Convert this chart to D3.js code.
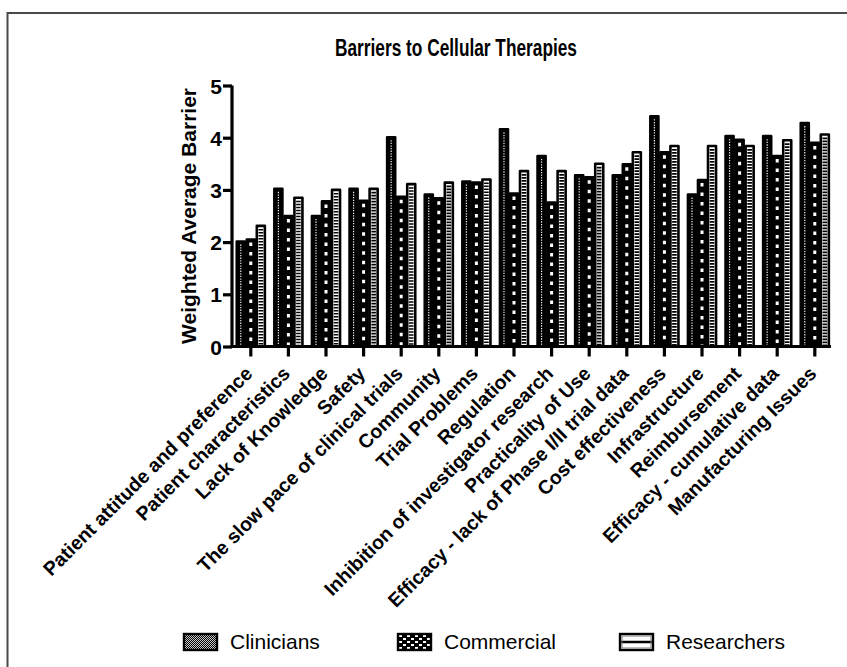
<!DOCTYPE html>
<html>
<head>
<meta charset="utf-8">
<script src="https://cdn.jsdelivr.net/npm/d3@7"></script>
<style>
  body { margin: 0; background: #fff; }
  text { font-family: "Liberation Sans", Arial, sans-serif; fill: #000; }
</style>
</head>
<body>
<script>
// barrier categories along the x axis
const categories = [
  "Patient attitude and preference",
  "Patient characteristics",
  "Lack of Knowledge",
  "Safety",
  "The slow pace of clinical trials",
  "Community",
  "Trial Problems",
  "Regulation",
  "Inhibition of investigator research",
  "Practicality of Use",
  "Efficacy - lack of Phase I/II trial data",
  "Cost effectiveness",
  "Infrastructure",
  "Reimbursement",
  "Efficacy - cumulative data",
  "Manufacturing Issues"
];
const seriesNames = ["Clinicians", "Commercial", "Researchers"];
const clinicians  = [2.01, 3.02, 2.50, 3.02, 4.01, 2.91, 3.16, 4.16, 3.65, 3.28, 3.28, 4.41, 2.91, 4.03, 4.03, 4.28];
const commercial  = [2.05, 2.50, 2.78, 2.79, 2.87, 2.84, 3.14, 2.93, 2.76, 3.24, 3.49, 3.72, 3.19, 3.96, 3.65, 3.90];
const researchers = [2.31, 2.85, 3.00, 3.02, 3.11, 3.14, 3.20, 3.36, 3.36, 3.50, 3.72, 3.84, 3.84, 3.84, 3.95, 4.06];
const yTicks = [0, 1, 2, 3, 4, 5];

const width = 847, height = 667;

const svg = d3.select("body").append("svg")
  .attr("width", width)
  .attr("height", height);

// outer frame (runs off the right / bottom edge)
svg.append("rect")
  .attr("x", 7.5).attr("y", 13)
  .attr("width", 900).attr("height", 700)
  .attr("fill", "none")
  .attr("stroke", "#4a4a4a")
  .attr("stroke-width", 2);

const data = categories.map((c, i) => ({
  cat: c,
  values: [clinicians[i], commercial[i], researchers[i]]
}));

const x0 = d3.scaleBand()
  .domain(categories)
  .range([232, 833.6])
  .paddingInner(0.2)
  .paddingOuter(0.1);

const x1 = d3.scaleBand()
  .domain(seriesNames)
  .range([0, x0.bandwidth()]);

const y = d3.scaleLinear()
  .domain([0, 5])
  .range([346.5, 85.5]);

// bars
const groups = svg.append("g").selectAll("g")
  .data(data)
  .enter().append("g")
  .attr("transform", d => `translate(${x0(d.cat)},0)`);

const bars = groups.selectAll("g.bar")
  .data(d => d.values.map((v, k) => ({ key: seriesNames[k], k: k, v: v })))
  .enter().append("g")
  .attr("class", "bar");

bars.append("rect")
  .attr("x", d => x1(d.key) + 1)
  .attr("y", d => y(d.v))
  .attr("width", x1.bandwidth() - 2)
  .attr("height", d => y(0) - y(d.v))
  .attr("fill", d => d.k == 2 ? "#fff" : "#000")
  .attr("stroke", "#000")
  .attr("stroke-width", 2.6)
  .attr("stroke-linejoin", "round");

// inner texture of every bar, drawn as a dashed line down its middle
const dashStyle = [
  { w: 1.2, dash: "1.3,1.3", col: "#eee" },   // Clinicians: fine dotted
  { w: 3,   dash: "3.5,6",   col: "#fff" },   // Commercial: white squares
  { w: 4.6, dash: "1.6,1.4", col: "#000" }    // Researchers: ladder stripes
];
bars.append("line")
  .attr("x1", d => x1(d.key) + x1.bandwidth() / 2)
  .attr("x2", d => x1(d.key) + x1.bandwidth() / 2)
  .attr("y1", d => y(d.v) + 3)
  .attr("y2", y(0) - 1)
  .attr("stroke", d => dashStyle[d.k].col)
  .attr("stroke-width", d => dashStyle[d.k].w)
  .attr("stroke-dasharray", d => dashStyle[d.k].dash);

// y axis
const yAxis = svg.append("g")
  .attr("transform", "translate(232,0)")
  .call(d3.axisLeft(y).tickValues(yTicks).tickSize(9).tickPadding(1).tickFormat(d3.format("d")));
yAxis.select(".domain").attr("stroke-width", 3.2).attr("d", `M0,${y(5)}V${y(0) + 1.5}`);
yAxis.selectAll(".tick line").attr("stroke-width", 3.2);
yAxis.selectAll(".tick text")
  .style("font-size", "21px")
  .style("font-weight", "bold")
  .attr("dy", "0.36em");

// x axis
const xAxis = svg.append("g")
  .attr("transform", `translate(0,${y(0)})`)
  .call(d3.axisBottom(x0).tickSize(10).tickSizeOuter(0));
xAxis.select(".domain").attr("stroke-width", 3.2).attr("d", "M230.5,0H831");
xAxis.selectAll(".tick line").attr("stroke-width", 3.2);
xAxis.selectAll(".tick text")
  .style("font-size", "19.5px")
  .style("font-weight", "bold")
  .attr("text-anchor", "end")
  .attr("x", -18)
  .attr("y", 22)
  .attr("dy", 0)
  .attr("transform", "rotate(-45)");

// y axis title
svg.append("text")
  .attr("transform", `translate(196,${(y(0) + y(5)) / 2}) rotate(-90)`)
  .attr("text-anchor", "middle")
  .style("font-size", "21px")
  .style("font-weight", "bold")
  .text("Weighted Average Barrier");

// chart title
svg.append("text")
  .attr("transform", "translate(456,56) scale(0.72,1)")
  .attr("text-anchor", "middle")
  .style("font-size", "24px")
  .style("font-weight", "bold")
  .text("Barriers to Cellular Therapies");

// legend swatch textures
const defs = svg.append("defs");
const pClin = defs.append("pattern").attr("id", "pClin")
  .attr("patternUnits", "userSpaceOnUse").attr("width", 2).attr("height", 2);
pClin.append("rect").attr("width", 2).attr("height", 2).attr("fill", "#000");
pClin.append("rect").attr("width", 1).attr("height", 1).attr("fill", "#ccc");
pClin.append("rect").attr("x", 1).attr("y", 1).attr("width", 1).attr("height", 1).attr("fill", "#ccc");

const pComm = defs.append("pattern").attr("id", "pComm")
  .attr("patternUnits", "userSpaceOnUse").attr("width", 8).attr("height", 6)
  .attr("x", 400).attr("y", 636);
pComm.append("rect").attr("width", 8).attr("height", 6).attr("fill", "#000");
pComm.append("rect").attr("x", 1).attr("y", 1).attr("width", 3).attr("height", 2).attr("fill", "#fff");
pComm.append("rect").attr("x", 5).attr("y", 4).attr("width", 3).attr("height", 2).attr("fill", "#fff");

const legendX = [184, 398, 620];
const legendFill = ["url(#pClin)", "url(#pComm)", "#fff"];
const legend = svg.append("g").selectAll("g")
  .data(seriesNames)
  .enter().append("g")
  .attr("transform", (d, i) => `translate(${legendX[i]},634)`);

legend.append("rect")
  .attr("width", 33).attr("height", 16)
  .attr("fill", (d, i) => legendFill[i])
  .attr("stroke", "#000")
  .attr("stroke-width", 2.4);
legend.filter((d, i) => i == 2).append("line")
  .attr("x1", 0).attr("x2", 33).attr("y1", 8).attr("y2", 8)
  .attr("stroke", "#000").attr("stroke-width", 2.4);
legend.filter((d, i) => i == 2).append("rect")
  .attr("x", 2).attr("y", 2).attr("width", 29).attr("height", 12)
  .attr("fill", "none").attr("stroke", "#777").attr("stroke-width", 1);

legend.append("text")
  .attr("x", 46)
  .attr("y", 15)
  .style("font-size", "21px")
  .text(d => d);
</script>
</body>
</html>
